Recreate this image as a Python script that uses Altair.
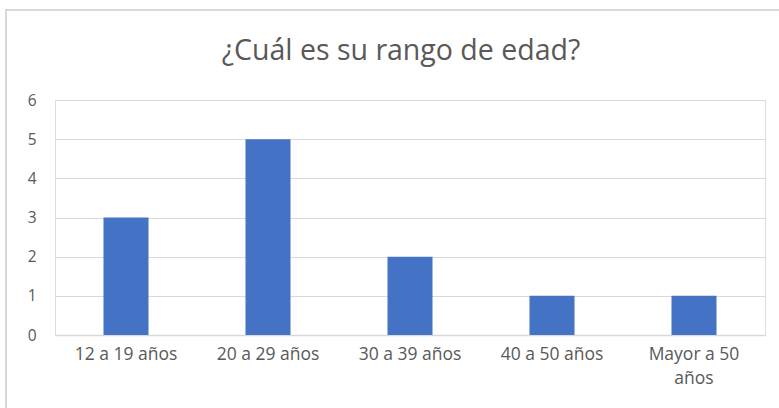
import altair as alt
import pandas as pd

categories = ["12 a 19 años", "20 a 29 años", "30 a 39 años", "40 a 50 años", "Mayor a 50 años"]
values = [3, 5, 2, 1, 1]
title_text = "¿Cuál es su rango de edad?"

df = pd.DataFrame({"rango": categories, "n": values})

FONT = "Open Sans"
GRAY = "#595959"

bars = alt.Chart(df).mark_bar(color="#4472C4").encode(
    x=alt.X(
        "rango:N",
        sort=categories,
        title=None,
        scale=alt.Scale(paddingInner=0.683, paddingOuter=0.3415),
        axis=alt.Axis(
            labelAngle=0,
            labelFont=FONT,
            labelFontSize=17.5,
            labelColor=GRAY,
            labelPadding=10,
            labelLineHeight=24,
            labelExpr="datum.label == 'Mayor a 50 años' ? ['Mayor a 50', 'años'] : datum.label",
            ticks=False,
            domainColor="#d9d9d9",
            domainWidth=1.5,
            grid=False,
        ),
    ),
    y=alt.Y(
        "n:Q",
        title=None,
        scale=alt.Scale(domain=[0, 6], nice=False),
        axis=alt.Axis(
            values=[0, 1, 2, 3, 4, 5, 6],
            labelFont=FONT,
            labelFontSize=15.5,
            labelColor=GRAY,
            labelPadding=19,
            ticks=False,
            domain=False,
            gridColor="#d9d9d9",
            gridWidth=1,
        ),
    ),
)

border = alt.Chart(df).mark_rect(
    fill=None, stroke="#d9d9d9", strokeWidth=1.5
).encode(
    x=alt.value(-49), x2=alt.value(740), y=alt.value(-90), y2=alt.value(320)
)

title = alt.Chart(pd.DataFrame({"t": [title_text]})).mark_text(
    font=FONT, fontSize=28.5, color=GRAY, align="center", baseline="middle"
).encode(text="t:N", x=alt.value(346), y=alt.value(-49))

chart = alt.layer(border, bars, title).properties(
    width=710,
    height=235,
    autosize=alt.AutoSizeParams(type="none"),
    padding={"left": 55, "top": 100, "right": 14, "bottom": 73},
).configure_view(stroke=None).configure(background="white")

chart.save("out.html", embed_options={"renderer": "svg", "actions": False})
